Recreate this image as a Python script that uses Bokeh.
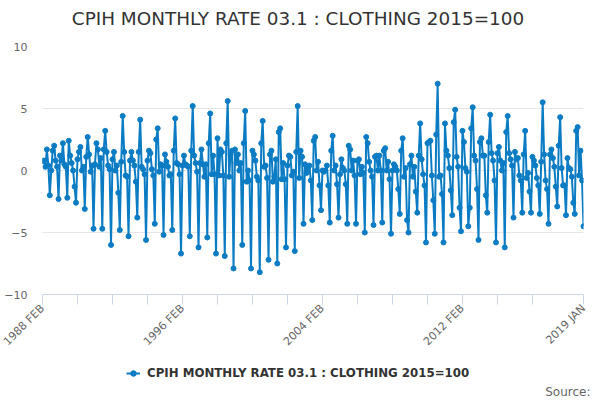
import math
from bokeh.plotting import figure
from bokeh.layouts import column
from bokeh.models import Range1d, FixedTicker, Legend, LegendItem, Label, Title
from bokeh.embed import file_html
from bokeh.resources import INLINE

title_text = "CPIH MONTHLY RATE 03.1 : CLOTHING 2015=100"
series_name = "CPIH MONTHLY RATE 03.1 : CLOTHING 2015=100"
source_text = "Source:"

first_year = 1988
first_month = 2  # FEB

# Monthly rates, Jan..Dec per year (1988 starts in Feb, 2019 ends in Jan)
y1988 = [0.75, 0.8, 0.3, 1.7, 0.4, -2.0, 0.0, 1.6, 2.0, 0.8, 0.3]
y1989 = [-2.3, 1.2, 0.8, 2.2, 0.5, 0.3, -2.2, 2.4, 1.2, 0.6, 0.0, -1.3]
y1990 = [-2.6, 0.9, 1.5, 1.9, 0.0, 0.3, -3.1, 1.1, 2.7, 1.3, -0.1, 0.4]
y1991 = [-4.7, 0.5, 2.2, 1.7, 0.3, 1.0, -4.7, 1.7, 3.2, 1.5, 0.4, 0.1]
y1992 = [-6.0, 0.9, 1.5, 0.0, 0.4, -1.8, -4.8, 0.7, 4.4, 1.5, -0.4, -0.5]
y1993 = [-5.3, 0.8, 1.5, 0.8, 0.4, -0.9, -3.8, 1.5, 4.1, 0.3, 0.1, -0.3]
y1994 = [-5.6, 0.8, 1.6, 1.4, 0.1, -0.4, -4.3, 2.5, 3.4, -0.1, 0.5, 0.4]
y1995 = [-5.2, 1.3, 0.7, 0.3, -0.4, -0.3, -4.8, 1.6, 4.2, 0.6, 0.5, -0.3]
y1996 = [-6.7, 0.4, 1.2, 0.5, 0.4, 0.3, -5.3, 1.6, 5.2, 1.2, 0.6, -0.1]
y1997 = [-6.2, 0.6, 1.7, 0.5, -0.5, 0.5, -5.4, 2.2, 4.6, -0.3, 1.2, -0.3]
y1998 = [-6.7, 2.6, -0.4, 1.7, 1.5, -0.4, -6.9, 2.2, 5.6, -0.5, 1.3, 1.6]
y1999 = [-7.9, 1.7, 0.6, 1.3, 0.0, 0.6, -6.0, 2.2, 4.8, -0.9, 0.0, -0.8]
y2000 = [-7.9, 1.6, 1.3, 0.8, -0.5, -0.8, -8.2, 2.2, 4.0, 0.3, 0.4, -0.6]
y2001 = [-7.2, 1.3, 1.6, -0.9, -0.5, 0.9, -7.5, 3.1, 3.4, -0.7, 0.6, -0.7]
y2002 = [-6.2, 0.4, 1.2, 1.1, -0.4, -0.1, -6.5, 1.5, 5.2, -0.6, 1.6, 1.1]
y2003 = [-4.3, 0.5, -0.2, 0.2, 0.4, -0.8, -4.0, 2.4, 2.7, 0.0, 0.7, -1.2]
y2004 = [-3.2, 0.0, -0.1, 0.0, 0.4, -1.2, -4.2, 1.6, 2.8, 0.0, 0.4, -1.1]
y2005 = [-3.8, -0.3, 0.9, 0.2, 0.0, -1.1, -4.3, 2.0, 1.7, 0.0, 0.8, -0.4]
y2006 = [-4.3, 0.8, 0.9, -0.3, 0.3, -0.2, -5.0, 2.7, 2.2, 0.7, 0.0, -0.5]
y2007 = [-4.4, 1.1, 1.2, 0.0, 1.2, 0.0, -4.2, 1.6, 1.8, 0.0, 0.7, -0.7]
y2008 = [-5.1, 0.0, 0.5, 0.3, 0.0, -1.5, -3.5, 1.6, 2.6, -0.5, 0.2, -4.0]
y2009 = [-5.0, 0.5, 1.2, -0.5, 0.3, -1.7, -3.4, 1.2, 3.8, 0.9, -0.3, -1.2]
y2010 = [-5.8, 2.2, 2.3, 2.4, -0.4, -2.4, -5.1, 2.9, 7.0, -0.5, -0.4, -1.9]
y2011 = [-5.8, 3.8, 1.6, 1.2, 0.2, -1.6, -3.6, 3.9, 4.9, 1.1, 0.3, -3.0]
y2012 = [-4.9, 3.2, 2.3, 0.2, -0.1, -4.5, -3.0, 3.4, 5.1, 1.2, 0.8, -1.5]
y2013 = [-5.6, 2.3, 2.6, 1.2, 1.2, -2.0, -3.4, 2.3, 4.5, 1.4, 0.8, -0.8]
y2014 = [-5.8, 1.4, 1.9, 0.8, 0.0, 0.6, -6.2, 3.1, 4.4, 1.4, 0.9, 0.4]
y2015 = [-3.8, 1.5, 0.9, 1.0, -0.4, -0.8, -3.4, 1.3, 3.2, -0.6, -0.2, -1.7]
y2016 = [-3.4, 1.1, 0.8, 0.4, -0.6, -1.2, -3.5, 0.7, 5.5, 1.3, -0.8, -1.5]
y2017 = [-4.3, 1.3, 1.7, 1.0, 0.3, -1.3, -2.9, 2.0, 4.3, 0.2, -1.2, -1.2]
y2018 = [-3.6, 1.0, 0.2, 0.1, -0.5, -2.6, -3.5, 3.2, 3.5, -0.4, 1.6, -0.8]
y2019 = [-4.5]

month_names = ["JAN", "FEB", "MAR", "APR", "MAY", "JUN",
               "JUL", "AUG", "SEP", "OCT", "NOV", "DEC"]
tick_labels = ["1988 FEB", "1996 FEB", "2004 FEB", "2012 FEB", "2019 JAN"]
y_ticks = [-10, -5, 0, 5, 10]

values = (y1988 + y1989 + y1990 + y1991 + y1992 + y1993 + y1994 + y1995 +
          y1996 + y1997 + y1998 + y1999 + y2000 + y2001 + y2002 + y2003 +
          y2004 + y2005 + y2006 + y2007 + y2008 + y2009 + y2010 + y2011 +
          y2012 + y2013 + y2014 + y2015 + y2016 + y2017 + y2018 + y2019)

periods = []
for i in range(len(values)):
    m = first_month - 1 + i
    periods.append(f"{first_year + m // 12} {month_names[m % 12]}")
xs = list(range(len(values)))
last = len(values) - 1

# ticks every two years, plus the last period
tick_pos = [i for i in range(0, last, 24) if last - i > 12] + [last]
overrides = {}
for t in tick_pos:
    overrides[t] = periods[t] if periods[t] in tick_labels else ""

color = "#0b7cc4"
font = "DejaVu Sans"
W = 600
LEFT = 42  # frame left edge shared by the stacked figures


def blank(h):
    f = figure(width=W, height=h, output_backend="svg", toolbar_location=None,
               x_range=Range1d(0, 1), y_range=Range1d(50, 51),
               x_axis_type=None, y_axis_type=None,
               min_border_left=0, min_border_right=0,
               min_border_top=0, min_border_bottom=0)
    f.outline_line_color = None
    f.background_fill_color = "white"
    f.border_fill_color = "white"
    return f


# --- title strip ---
top = blank(30)
top.add_layout(Label(x=297.5 - LEFT, y=12, x_units="screen", y_units="screen",
                     text=title_text, text_align="center",
                     text_baseline="middle", text_font=font,
                     text_font_size="18.4px", text_color="#333333"))

# --- main chart ---
p = figure(width=W, height=326, output_backend="svg", toolbar_location=None,
           x_range=Range1d(0, last), y_range=Range1d(-10, 10),
           min_border_left=LEFT, min_border_right=17, min_border_top=16,
           min_border_bottom=62)
p.outline_line_color = None
p.background_fill_color = "white"
p.border_fill_color = "white"

p.line(xs, values, line_color=color, line_width=2)
p.scatter(xs, values, size=5, fill_color=color, line_color=color)

p.xgrid.visible = False
p.ygrid.grid_line_color = "#e6e6e6"
p.ygrid.ticker = FixedTicker(ticks=y_ticks)

p.yaxis.ticker = FixedTicker(ticks=y_ticks)
p.yaxis.axis_line_color = None
p.yaxis.major_tick_line_color = None
p.yaxis.major_tick_out = 0
p.yaxis.major_tick_in = 0
p.yaxis.minor_tick_line_color = None
p.yaxis.minor_tick_out = 0
p.yaxis.major_label_text_color = "#666666"
p.yaxis.major_label_text_font = font
p.yaxis.major_label_text_font_size = "11px"
p.yaxis.major_label_standoff = 15

p.xaxis.ticker = FixedTicker(ticks=tick_pos)
p.xaxis.major_label_overrides = overrides
p.xaxis.axis_line_color = "#ccd6eb"
p.xaxis.major_tick_line_color = "#ccd6eb"
p.xaxis.major_tick_out = 10
p.xaxis.major_tick_in = 0
p.xaxis.minor_tick_line_color = None
p.xaxis.major_label_orientation = math.pi / 4
p.xaxis.major_label_text_color = "#666666"
p.xaxis.major_label_text_font = font
p.xaxis.major_label_text_font_size = "11px"
p.xaxis.major_label_standoff = 2

# --- legend + source strip ---
bot = blank(44)
lg_line = bot.line(xs[:1], values[:1], line_color=color, line_width=2)
lg_dot = bot.scatter(xs[:1], values[:1], size=5, fill_color=color,
                     line_color=color)
legend = Legend(items=[LegendItem(label=series_name,
                                  renderers=[lg_line, lg_dot])],
                location=(126 - LEFT, 4), orientation="horizontal",
                background_fill_alpha=0, border_line_color=None,
                padding=0, margin=0, glyph_width=14, glyph_height=14,
                label_standoff=7, label_height=14,
                label_text_font=font,
                label_text_font_size="11.8px", label_text_font_style="bold",
                label_text_color="#333333")
bot.add_layout(legend)
bot.add_layout(Title(text=source_text, align="right", offset=-7,
                     vertical_align="top", standoff=0,
                     text_font=font, text_font_size="12px",
                     text_font_style="normal", text_color="#666666"),
               "below")

layout = column(top, p, bot, spacing=0)
open("out.html", "w").write(file_html(layout, INLINE))
